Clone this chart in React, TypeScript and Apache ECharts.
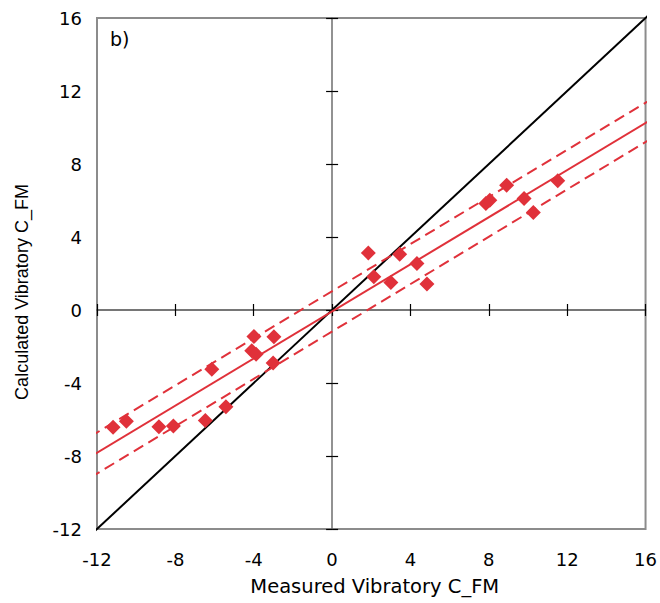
import React, { useEffect, useRef } from "react";
import * as echarts from "echarts";

const measured = [1.85, 3.45, 4.33, 2.13, 3.0, 4.84, 8.91, 7.85, 8.05, 9.8, 11.52, 10.27, -11.18, -10.5, -8.84, -8.1, -6.47, -5.42, -3.99, -2.97, -4.1, -3.88, -6.14, -3.01];
const calculated = [3.13, 3.06, 2.55, 1.82, 1.51, 1.42, 6.84, 5.84, 6.02, 6.11, 7.08, 5.34, -6.42, -6.1, -6.4, -6.35, -6.05, -5.3, -1.45, -1.47, -2.23, -2.42, -3.25, -2.9];

const identityX = [-12.3, 16.3];
const identityY = [-12.3, 16.3];
const fitX = [-12.35, 16.3];
const fitY = [-8.05, 10.44];
const upperY = [-6.94, 11.55];
const lowerY = [-9.19, 9.4];

const ticks = [-12, -8, -4, 0, 4, 8, 12, 16];

const RED = "#e0313a";
const TICK_FONT = "DejaVu Sans, Verdana, sans-serif";

export default function App() {
  const ref = useRef<HTMLDivElement>(null);
  useEffect(() => {
    if (!ref.current) return;
    const chart = echarts.init(ref.current, undefined, { renderer: "svg" });
    const pts = measured.map((x, i) => [x, calculated[i]]);
    const pair = (xs: number[], ys: number[]) => xs.map((x, i) => [x, ys[i]]);
    const axisBase = {
      type: "value" as const,
      min: ticks[0],
      max: ticks[ticks.length - 1],
      interval: 4,
      splitLine: { show: false },
    };
    chart.setOption({
      animation: false,
      backgroundColor: "#fff",
      grid: {
        left: 97,
        top: 18,
        right: 11,
        bottom: 74,
        show: true,
        borderColor: "#8c8c8c",
        borderWidth: 2,
        backgroundColor: "transparent",
      },
      xAxis: [
        {
          ...axisBase,
          position: "bottom",
          axisLine: { show: false, onZero: false },
          axisTick: { show: false },
          axisLabel: { show: true, fontSize: 18, color: "#000", fontFamily: TICK_FONT, margin: 21 },
          name: "Measured Vibratory C_FM",
          nameLocation: "middle",
          nameGap: 47,
          nameTextStyle: { fontSize: 19.5, color: "#000", fontFamily: TICK_FONT, padding: [0, 0, 0, 7] },
        },
        {
          ...axisBase,
          position: "bottom",
          axisLine: { show: true, onZero: true, lineStyle: { color: "#4a4a4a", width: 1.5 } },
          axisTick: { show: true, inside: false, length: 6, lineStyle: { color: "#000", width: 1.2 } },
          axisLabel: { show: false },
        },
        {
          ...axisBase,
          position: "bottom",
          axisLine: { show: false, onZero: true },
          axisTick: { show: true, inside: true, length: 6, lineStyle: { color: "#000", width: 1.2 } },
          axisLabel: { show: false },
        },
      ],
      yAxis: [
        {
          ...axisBase,
          position: "left",
          axisLine: { show: false, onZero: false },
          axisTick: { show: false },
          axisLabel: { show: true, fontSize: 18, color: "#000", fontFamily: TICK_FONT, margin: 15 },
        },
        {
          ...axisBase,
          position: "left",
          axisLine: { show: true, onZero: true, lineStyle: { color: "#6e6e6e", width: 1.5 } },
          axisTick: { show: true, inside: false, length: 6, lineStyle: { color: "#000", width: 1.2 } },
          axisLabel: { show: false },
        },
        {
          ...axisBase,
          position: "left",
          axisLine: { show: false, onZero: true },
          axisTick: { show: true, inside: true, length: 6, lineStyle: { color: "#000", width: 1.2 } },
          axisLabel: { show: false },
        },
      ],
      graphic: [
        {
          type: "text",
          x: 22,
          y: 292,
          rotation: Math.PI / 2,
          style: {
            text: "Calculated Vibratory C_FM",
            font: "18px 'Liberation Sans', Arial, sans-serif",
            fill: "#000",
            textAlign: "center",
            textVerticalAlign: "middle",
          },
        },
        {
          type: "text",
          x: 110,
          y: 39,
          style: {
            text: "b)",
            font: "19px 'DejaVu Sans', Verdana, sans-serif",
            fill: "#000",
            textAlign: "left",
            textVerticalAlign: "middle",
          },
        },
      ],
      series: [
        {
          type: "line",
          data: pair(identityX, identityY),
          showSymbol: false,
          symbol: "none",
          clip: false,
          lineStyle: { color: "#000", width: 2 },
          silent: true,
        },
        {
          type: "line",
          data: pair(fitX, fitY),
          symbol: "none",
          clip: false,
          lineStyle: { color: RED, width: 2 },
          silent: true,
        },
        {
          type: "line",
          data: pair(fitX, upperY),
          symbol: "none",
          clip: false,
          lineStyle: { color: RED, width: 2, type: [11, 6] },
          silent: true,
        },
        {
          type: "line",
          data: pair(fitX, lowerY),
          symbol: "none",
          clip: false,
          lineStyle: { color: RED, width: 2, type: [11, 6] },
          silent: true,
        },
        {
          type: "scatter",
          data: pts,
          symbol: "diamond",
          symbolSize: 15,
          itemStyle: { color: RED, opacity: 1 },
          z: 5,
        },
      ],
    });
    return () => chart.dispose();
  }, []);
  return (
    <div
      ref={ref}
      style={{ position: "absolute", left: 0, top: 0, width: 660, height: 603 }}
    />
  );
}
